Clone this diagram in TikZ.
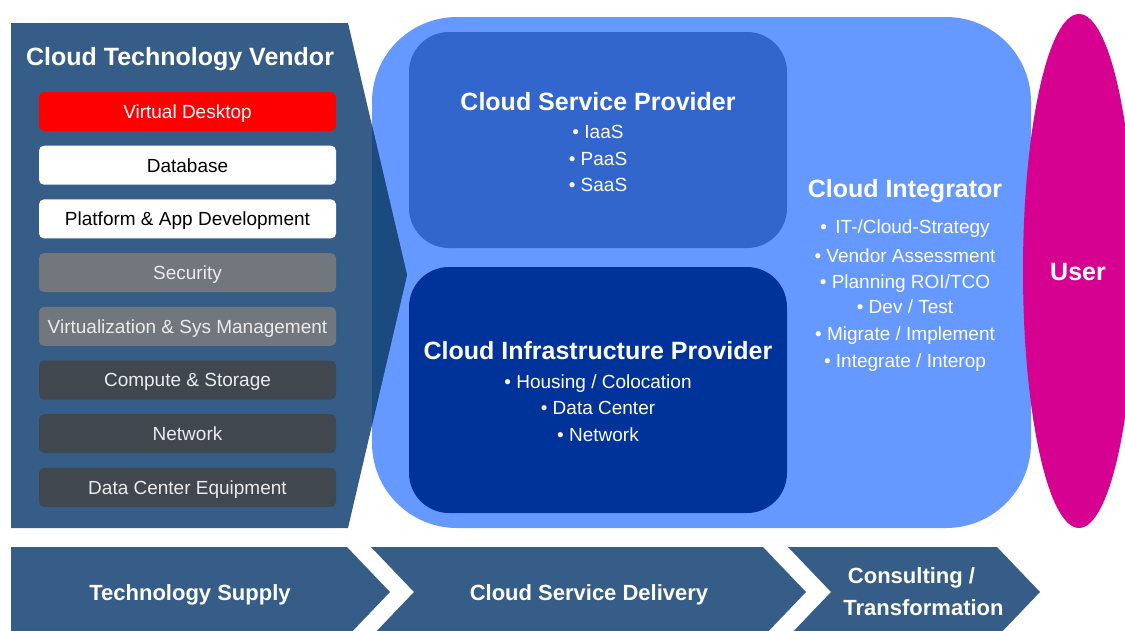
\documentclass[tikz,border=0pt]{standalone}
\usepackage{fontspec}
\setmainfont{Liberation Sans}
\usetikzlibrary{shapes.geometric}
\definecolor{panel}{RGB}{54,93,135}
\definecolor{paneldark}{RGB}{27,74,126}
\definecolor{lightblue}{RGB}{102,153,255}
\definecolor{svcblue}{RGB}{51,102,204}
\definecolor{infblue}{RGB}{0,51,153}
\definecolor{usermag}{RGB}{214,0,145}
\definecolor{itemgrey}{RGB}{114,119,126}
\definecolor{itemdark}{RGB}{65,71,79}
\definecolor{itemred}{RGB}{255,0,0}
\definecolor{softwhite}{RGB}{235,235,235}
\begin{document}
\begin{tikzpicture}[x=1pt,y=-1pt,
  item/.style={rounded corners=5pt, minimum width=297pt, minimum height=39pt,
    inner sep=0pt, text height=13.6pt, text depth=0pt, font=\fontsize{19}{23}\selectfont},
  ttl/.style={font=\bfseries\fontsize{25}{30}\selectfont, text=white, anchor=base, inner sep=0pt},
  bul/.style={font=\fontsize{19}{23}\selectfont, text=white, anchor=base, inner sep=0pt},
  chev/.style={font=\bfseries\fontsize{22}{26}\selectfont, text=white, anchor=base, inner sep=0pt},
  pbox/.style={rounded corners=40pt, inner sep=0pt, minimum width=378pt}]
\useasboundingbox (0,0) rectangle (1125,630);
\clip (0,0) rectangle (1125,630);

% big light-blue integrator area
\fill[lightblue, rounded corners=85pt] (372,17) rectangle (1031,528);

% user ellipse
\node[ellipse, fill=usermag, minimum width=112pt, minimum height=514pt, inner sep=0pt] (user) at (1079,271) {};
\node[ttl] (usertxt) at (1078,280) {User};

% vendor panel
\fill[panel] (11,23) -- (348,23) -- (407,275) -- (348,528) -- (11,528) -- cycle;
\fill[paneldark] (372,125.5) -- (407,275) -- (372,425) -- cycle;
\node[ttl] (vendor) at (180,65) {Cloud Technology Vendor};

\node[item, fill=itemred, text=white] (i1) at (187.5,111.5) {Virtual Desktop};
\node[item, fill=white, text=black] (i2) at (187.5,165.2) {Database};
\node[item, fill=white, text=black] (i3) at (187.5,218.9) {Platform \& App Development};
\node[item, fill=itemgrey, text=softwhite] (i4) at (187.5,272.6) {Security};
\node[item, fill=itemgrey, text=softwhite] (i5) at (187.5,326.3) {Virtualization \& Sys Management};
\node[item, fill=itemdark, text=softwhite] (i6) at (187.5,380) {Compute \& Storage};
\node[item, fill=itemdark, text=softwhite] (i7) at (187.5,433.7) {Network};
\node[item, fill=itemdark, text=softwhite] (i8) at (187.5,487.4) {Data Center Equipment};

% provider boxes
\node[pbox, fill=svcblue, minimum height=216pt] (csp) at (598,140) {};
\node[pbox, fill=infblue, minimum height=246pt] (cip) at (598,390) {};

\node[ttl] (csptitle) at (598,110) {Cloud Service Provider};
\node[bul] (csp1) at (598,138) {• IaaS};
\node[bul] (csp2) at (598,165) {• PaaS};
\node[bul] (csp3) at (598,191) {• SaaS};

\node[ttl] (ciptitle) at (598,359) {Cloud Infrastructure Provider};
\node[bul] (cip1) at (598,388) {• Housing / Colocation};
\node[bul] (cip2) at (598,414) {• Data Center};
\node[bul] (cip3) at (598,441) {• Network};

% integrator
\node[ttl] (ci) at (905,197) {Cloud Integrator};
\node[bul] (ci1) at (905,233) {•\, IT-/Cloud-Strategy};
\node[bul] (ci2) at (905,262) {• Vendor Assessment};
\node[bul] (ci3) at (905,288) {• Planning ROI/TCO};
\node[bul] (ci4) at (905,313) {• Dev / Test};
\node[bul] (ci5) at (905,340) {• Migrate / Implement};
\node[bul] (ci6) at (905,367) {• Integrate / Interop};

% bottom chevrons
\fill[panel] (11,547) -- (347,547) -- (390,592) -- (347,637) -- (11,637) -- cycle;
\fill[panel] (371,547) -- (763,547) -- (806,592) -- (763,637) -- (371,637) -- (414,592) -- cycle;
\fill[panel] (788,547) -- (997,547) -- (1040,592) -- (997,637) -- (788,637) -- (831,592) -- cycle;
\node[chev] (c1) at (190,600) {Technology Supply};
\node[chev] (c2) at (589,600) {Cloud Service Delivery};
\node[chev] (c3a) at (911.5,583) {Consulting /};
\node[chev] (c3b) at (923.5,615) {Transformation};
\end{tikzpicture}
\end{document}
